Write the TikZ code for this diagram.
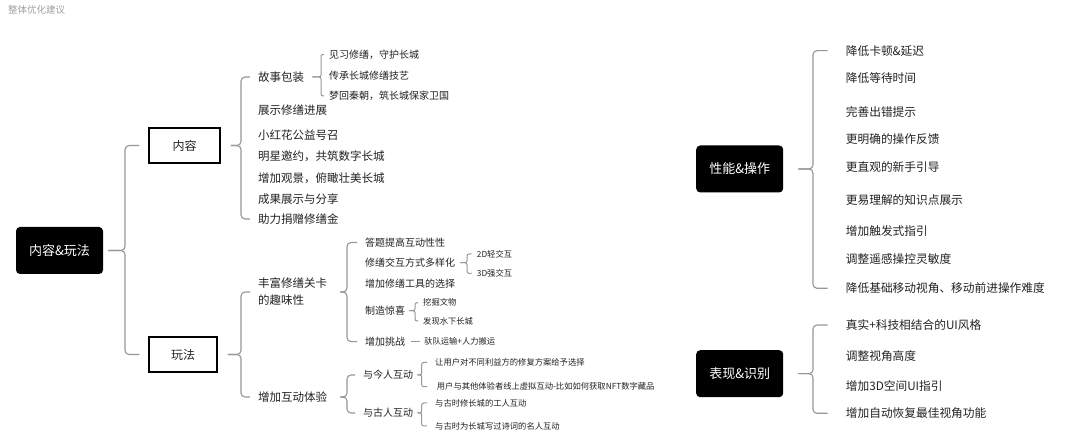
\documentclass[tikz,border=0pt]{standalone}
\usepackage{fontspec}
\setmainfont{Noto Sans CJK SC}
\definecolor{brc}{HTML}{979797}
\definecolor{txt}{HTML}{222222}
\definecolor{ttl}{HTML}{A0A0A0}
\tikzset{
  br/.style={draw=brc, line width=1.1pt, rounded corners=4pt},
  brs/.style={draw=brc, line width=1pt, rounded corners=2pt},
  lv1/.style={anchor=west, inner sep=0pt, font=\fontsize{11.5}{17}\selectfont, text=txt},
  lv2/.style={anchor=west, inner sep=0pt, font=\fontsize{10}{12}\selectfont, text=txt},
  lv3/.style={anchor=west, inner sep=0pt, font=\fontsize{8.3}{10}\selectfont, text=txt},
  rt/.style={anchor=west, inner sep=0pt, font=\fontsize{11.7}{14}\selectfont, text=txt},
  blk/.style={fill=black, rounded corners=4pt, text=white, minimum width=87pt, minimum height=47pt, font=\fontsize{13}{15}\selectfont, inner sep=0pt},
  wbox/.style={draw=black, line width=1.5pt, minimum height=35pt, font=\fontsize{12}{14}\selectfont, inner sep=0pt, text=txt},
}
\begin{document}
\begin{tikzpicture}[x=1pt,y=-1pt]
\useasboundingbox[fill=white] (0,0) rectangle (1080,438);

% title
\node[anchor=west, inner sep=0pt, font=\fontsize{9.5}{11}\selectfont, text=ttl] (title) at (8,10) {整体优化建议};

% ---------------- left tree ----------------
\node[blk] (root) at (59.5,250.5) {内容\&玩法};
\node[wbox, minimum width=71pt] (nr) at (184.5,145.5) {内容};
\node[wbox, minimum width=68pt] (wf) at (183,354.5) {玩法};

\coordinate (b0) at (125,250.5);
\draw[br] ([xshift=-9pt]nr.west) -| (b0) -- ([xshift=5pt]root.east);
\draw[br] ([xshift=-9pt]wf.west) -| (b0) -- ([xshift=5pt]root.east);

% 内容 children
\node[lv1] (gs) at (258,77) {故事包装};
\node[lv1] (zs) at (258,110) {展示修缮进展};
\node[lv1] (xh) at (258,135) {小红花公益号召};
\node[lv1] (mx) at (258,156.5) {明星邀约，共筑数字长城};
\node[lv1] (gj) at (258,178) {增加观景，俯瞰壮美长城};
\node[lv1] (cg) at (258,199) {成果展示与分享};
\node[lv1] (zl) at (258,219) {助力捐赠修缮金};

\coordinate (b1) at (241,145.5);
\draw[br] ([xshift=-8pt]gs.west) -| (b1) -- ([xshift=10pt]nr.east);
\draw[br] ([xshift=-8pt]zl.west) -| (b1) -- ([xshift=10pt]nr.east);

% 故事包装 children
\node[lv2] (g1) at (329,54.5) {见习修缮，守护长城};
\node[lv2] (g2) at (329,76) {传承长城修缮技艺};
\node[lv2] (g3) at (329,96) {梦回秦朝，筑长城保家卫国};
\coordinate (b2) at (321,77);
\draw[brs] ([xshift=-5pt]g1.west) -| (b2) -- ([xshift=8pt]gs.east);
\draw[brs] ([xshift=-5pt]g3.west) -| (b2) -- ([xshift=8pt]gs.east);

% 玩法 children
\node[lv1, align=left] (ff) at (258,292) {丰富修缮关卡\\的趣味性};
\node[lv1] (hd) at (258,397) {增加互动体验};
\coordinate (b3) at (241,354.5);
\draw[br] ([xshift=-8pt]ff.west) -| (b3) -- ([xshift=10pt]wf.east);
\draw[br] ([xshift=-8pt]hd.west) -| (b3) -- ([xshift=10pt]wf.east);

% 丰富修缮关卡 children
\node[lv2] (f1) at (365,242.5) {答题提高互动性性};
\node[lv2] (f2) at (365,262.7) {修缮交互方式多样化};
\node[lv2] (f3) at (365,284) {增加修缮工具的选择};
\node[lv2] (f4) at (365,310.7) {制造惊喜};
\node[lv2] (f5) at (365,341.7) {增加挑战};
\coordinate (b4) at (347,292);
\draw[br] ([xshift=-8pt]f1.west) -| (b4) -- ([xshift=13pt]ff.east);
\draw[br] ([xshift=-8pt]f5.west) -| (b4) -- ([xshift=13pt]ff.east);

% 修缮交互方式多样化 children
\node[lv3] (x1) at (476.7,254) {2D轻交互};
\node[lv3] (x2) at (476.7,273.3) {3D强交互};
\coordinate (b5) at (467,262.7);
\draw[brs] ([xshift=-5pt]x1.west) -| (b5) -- ([xshift=5pt]f2.east);
\draw[brs] ([xshift=-5pt]x2.west) -| (b5) -- ([xshift=5pt]f2.east);

% 制造惊喜 children
\node[lv3] (s1) at (423,302.7) {挖掘文物};
\node[lv3] (s2) at (423,321) {发现水下长城};
\coordinate (b6) at (415,310.7);
\draw[brs] ([xshift=-5pt]s1.west) -| (b6) -- ([xshift=4pt]f4.east);
\draw[brs] ([xshift=-5pt]s2.west) -| (b6) -- ([xshift=4pt]f4.east);

% 增加挑战 child
\node[lv3] (t1) at (424,341.7) {驮队运输+人力搬运};
\draw[brs] ([xshift=6pt]f5.east) -- ([xshift=-4pt]t1.west);

% 增加互动体验 children
\node[lv2] (h1) at (363,375) {与今人互动};
\node[lv2] (h2) at (363,413) {与古人互动};
\coordinate (b7) at (347,397);
\draw[br] ([xshift=-8pt]h1.west) -| (b7) -- ([xshift=13pt]hd.east);
\draw[br] ([xshift=-8pt]h2.west) -| (b7) -- ([xshift=13pt]hd.east);

% 与今人互动 children
\node[lv3] (j1) at (435,362.5) {让用户对不同利益方的修复方案给予选择};
\node[lv3] (j2) at (436.7,386.7) {用户与其他体验者线上虚拟互动-比如如何获取NFT数字藏品};
\coordinate (b8) at (421.7,375);
\draw[brs] ([xshift=-8pt]j1.west) -| (b8) -- ([xshift=4pt]h1.east);
\draw[brs] ([xshift=-9.7pt]j2.west) -| (b8) -- ([xshift=4pt]h1.east);

% 与古人互动 children
\node[lv3] (k1) at (435,403) {与古时修长城的工人互动};
\node[lv3] (k2) at (435,426) {与古时为长城写过诗词的名人互动};
\coordinate (b9) at (421.7,413);
\draw[brs] ([xshift=-8pt]k1.west) -| (b9) -- ([xshift=4pt]h2.east);
\draw[brs] ([xshift=-8pt]k2.west) -| (b9) -- ([xshift=4pt]h2.east);

% ---------------- right trees ----------------
\node[blk] (xn) at (739.7,169) {性能\&操作};
\node[rt] (r1) at (845.7,50.7) {降低卡顿\&延迟};
\node[rt] (r2) at (845.7,78.3) {降低等待时间};
\node[rt] (r3) at (845.7,111.7) {完善出错提示};
\node[rt] (r4) at (845.7,139.3) {更明确的操作反馈};
\node[rt] (r5) at (845.7,166.7) {更直观的新手引导};
\node[rt] (r6) at (845.7,200) {更易理解的知识点展示};
\node[rt] (r7) at (845.7,230.7) {增加触发式指引};
\node[rt] (r8) at (845.7,259.3) {调整遥感操控灵敏度};
\node[rt] (r9) at (845.7,288.3) {降低基础移动视角、移动前进操作难度};
\coordinate (b10) at (813,169);
\draw[br] ([xshift=-18pt]r1.west) -| (b10) -- ([xshift=15pt]xn.east);
\draw[br] ([xshift=-18pt]r9.west) -| (b10) -- ([xshift=15pt]xn.east);

\node[blk] (bx) at (739.7,373.7) {表现\&识别};
\node[rt] (q1) at (845.7,325) {真实+科技相结合的UI风格};
\node[rt] (q2) at (845.7,356) {调整视角高度};
\node[rt] (q3) at (845.7,385.7) {增加3D空间UI指引};
\node[rt] (q4) at (845.7,413.3) {增加自动恢复最佳视角功能};
\coordinate (b11) at (813,373.7);
\draw[br] ([xshift=-18pt]q1.west) -| (b11) -- ([xshift=15pt]bx.east);
\draw[br] ([xshift=-18pt]q4.west) -| (b11) -- ([xshift=15pt]bx.east);
\end{tikzpicture}
\end{document}
